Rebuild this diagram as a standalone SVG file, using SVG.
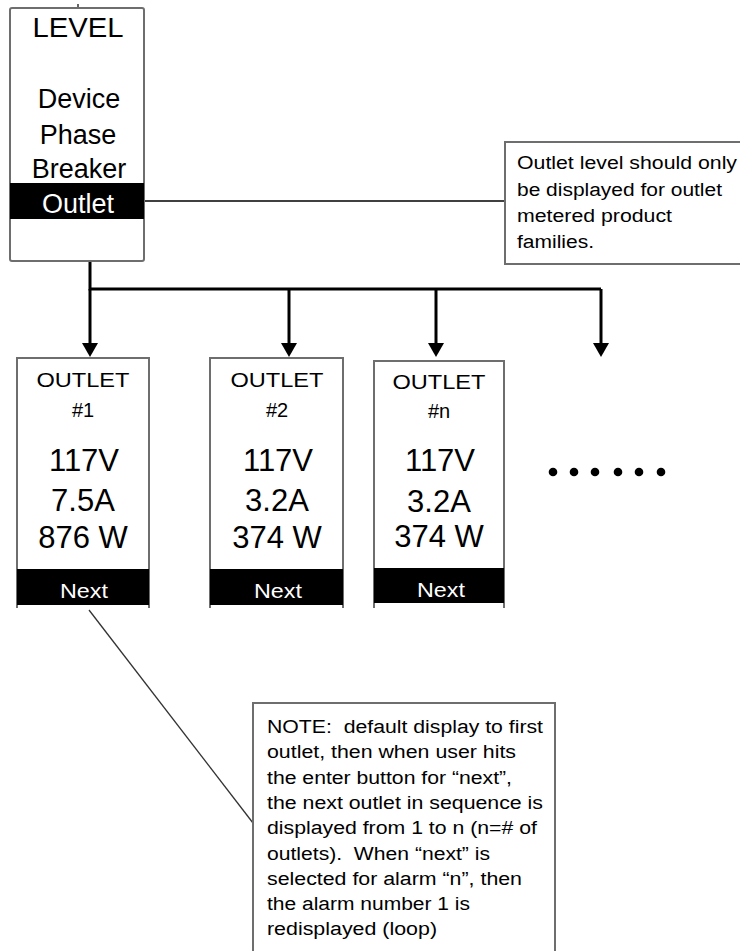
<svg xmlns="http://www.w3.org/2000/svg" width="740" height="951" viewBox="0 0 740 951">
<style>
.box{fill:#fff;stroke:#6e6e6e;stroke-width:2}
.open{fill:none;stroke:#6e6e6e;stroke-width:2}
.band{fill:#000}
.t{font-family:"Liberation Sans",Arial,sans-serif;fill:#000;text-anchor:middle}
.w{fill:#fff}
.lv{font-size:27px}
.hd{font-size:20px}
.big{font-size:31px}
.nx{font-size:20px}
.note{font-family:"Liberation Sans",Arial,sans-serif;font-size:18px;fill:#000}
.bus{fill:none;stroke:#000;stroke-width:3}
.thin{fill:none;stroke:#000;stroke-width:1.5}
.lead{fill:none;stroke:#333;stroke-width:1.3}
</style>
<defs>
<marker id="ah" markerUnits="userSpaceOnUse" markerWidth="16" markerHeight="15" refX="8" refY="14" orient="auto-start-reverse" viewBox="0 0 16 15">
<path d="M0,0 L16,0 L8,14 Z" fill="#000" transform="rotate(0)"/>
</marker>
</defs>
<g id="connectors">
<path class="thin" d="M144,201 H505"/>
<path class="bus" d="M90,262 V289 H601"/>
<path class="bus" d="M90,289 V343"/>
<path d="M82,343 H98 L90,357 Z" fill="#000"/>
<path class="bus" d="M289,289 V343"/>
<path d="M281,343 H297 L289,357 Z" fill="#000"/>
<path class="bus" d="M436,289 V343"/>
<path d="M428,343 H444 L436,357 Z" fill="#000"/>
<path class="bus" d="M601,289 V343"/>
<path d="M593,343 H609 L601,357 Z" fill="#000"/>
<path class="lead" d="M89,610 L253,823"/>
<path d="M78,4 V8" stroke="#333" stroke-width="1.5"/>
</g>
<g id="level">
<rect class="box" x="10" y="8" width="134" height="253" rx="2"/>
<rect class="band" x="10" y="183" width="134" height="36"/>
<text class="t lv" x="78" y="37" textLength="91" lengthAdjust="spacingAndGlyphs">LEVEL</text>
<text class="t lv" x="79" y="108">Device</text>
<text class="t lv" x="78" y="143.5">Phase</text>
<text class="t lv" x="79" y="178">Breaker</text>
<text class="t lv w" x="78" y="213">Outlet</text>
</g>
<g id="note1">
<rect class="box" x="505" y="142" width="250" height="122"/>
<text class="note" x="517" y="169" textLength="220" lengthAdjust="spacingAndGlyphs">Outlet level should only</text>
<text class="note" x="517" y="195.5" textLength="205" lengthAdjust="spacingAndGlyphs">be displayed for outlet</text>
<text class="note" x="517" y="222" textLength="155" lengthAdjust="spacingAndGlyphs">metered product</text>
<text class="note" x="517" y="248" textLength="77" lengthAdjust="spacingAndGlyphs">families.</text>
</g>
<g id="outlet1">
<rect x="17" y="358" width="132" height="249" fill="#fff"/>
<path class="open" d="M17,608 V358 H149 V608"/>
<rect class="band" x="17" y="569" width="132" height="36"/>
<text class="t hd" x="83" y="387" textLength="93" lengthAdjust="spacingAndGlyphs">OUTLET</text>
<text class="t hd" x="83" y="417">#1</text>
<text class="t big" x="84" y="471">117V</text>
<text class="t big" x="83" y="511">7.5A</text>
<text class="t big" x="83" y="548">876 W</text>
<text class="t nx w" x="84" y="598" textLength="48" lengthAdjust="spacingAndGlyphs">Next</text>
</g>
<g id="outlet2">
<rect x="210" y="358" width="133" height="249" fill="#fff"/>
<path class="open" d="M210,608 V358 H343 V608"/>
<rect class="band" x="210" y="569" width="133" height="36"/>
<text class="t hd" x="277" y="387" textLength="93" lengthAdjust="spacingAndGlyphs">OUTLET</text>
<text class="t hd" x="277" y="417">#2</text>
<text class="t big" x="278" y="471">117V</text>
<text class="t big" x="277" y="511">3.2A</text>
<text class="t big" x="277" y="548">374 W</text>
<text class="t nx w" x="278" y="598" textLength="48" lengthAdjust="spacingAndGlyphs">Next</text>
</g>
<g id="outletn">
<rect x="374" y="361" width="130" height="246" fill="#fff"/>
<path class="open" d="M374,608 V361 H504 V608"/>
<rect class="band" x="374" y="568" width="130" height="35"/>
<text class="t hd" x="439" y="389" textLength="93" lengthAdjust="spacingAndGlyphs">OUTLET</text>
<text class="t hd" x="439" y="418">#n</text>
<text class="t big" x="440" y="471">117V</text>
<text class="t big" x="439" y="512">3.2A</text>
<text class="t big" x="439" y="547">374 W</text>
<text class="t nx w" x="441" y="597" textLength="48" lengthAdjust="spacingAndGlyphs">Next</text>
</g>
<g id="ellipsis" fill="#000">
<circle cx="553" cy="472" r="4.3"/>
<circle cx="574" cy="472" r="4.3"/>
<circle cx="595" cy="472" r="4.3"/>
<circle cx="618" cy="472" r="4.3"/>
<circle cx="639" cy="472" r="4.3"/>
<circle cx="661" cy="472" r="4.3"/>
</g>
<g id="note2">
<rect class="box" x="253" y="703" width="302" height="260"/>
<text class="note" x="267" y="733" textLength="276" lengthAdjust="spacingAndGlyphs" xml:space="preserve">NOTE:  default display to first</text>
<text class="note" x="267" y="758.3" textLength="249" lengthAdjust="spacingAndGlyphs">outlet, then when user hits</text>
<text class="note" x="267" y="783.6" textLength="245" lengthAdjust="spacingAndGlyphs">the enter button for “next”,</text>
<text class="note" x="267" y="808.9" textLength="276" lengthAdjust="spacingAndGlyphs">the next outlet in sequence is</text>
<text class="note" x="267" y="834.2" textLength="270" lengthAdjust="spacingAndGlyphs">displayed from 1 to n (n=# of</text>
<text class="note" x="267" y="859.5" textLength="223" lengthAdjust="spacingAndGlyphs" xml:space="preserve">outlets).  When “next” is</text>
<text class="note" x="267" y="884.8" textLength="255" lengthAdjust="spacingAndGlyphs">selected for alarm “n”, then</text>
<text class="note" x="267" y="910.1" textLength="203" lengthAdjust="spacingAndGlyphs">the alarm number 1 is</text>
<text class="note" x="267" y="935.4" textLength="170" lengthAdjust="spacingAndGlyphs">redisplayed (loop)</text>
</g>
</svg>
